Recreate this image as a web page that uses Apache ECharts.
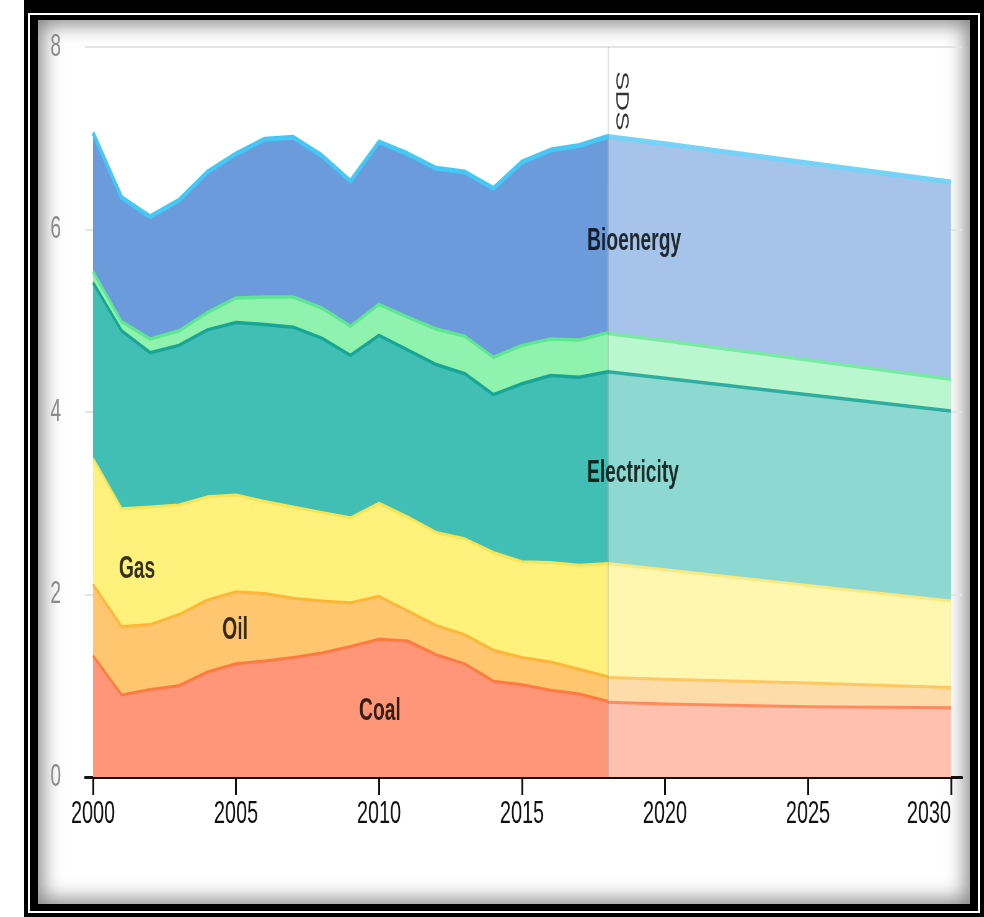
<!DOCTYPE html>
<html>
<head>
<meta charset="utf-8">
<script src="https://cdn.jsdelivr.net/npm/echarts@6/dist/echarts.min.js"></script>
<style>
  html, body { margin: 0; padding: 0; width: 984px; height: 917px; overflow: hidden; background: #fff; }
  #outer { position: absolute; left: 24px; top: 0; right: 0; bottom: 0; background: #000; }
  #gap { position: absolute; left: 4px; top: 13px; right: 4px; bottom: 4px; background: #fff; }
  #inner { position: absolute; left: 2px; top: 2px; right: 2px; bottom: 2px; background: #000; }
  #panel { position: absolute; left: 8px; top: 5px; right: 8px; bottom: 7px; background: #fff;
           box-shadow: inset 0 0 20px 4px rgba(0,0,0,0.5); }
  #chart { position: absolute; left: 0; top: 0; height: 917px; transform-origin: 0 0; }
</style>
</head>
<body>
<div id="outer"><div id="gap"><div id="inner"><div id="panel"></div></div></div></div>
<div id="chart"></div>
<script>
// ---------------- data ----------------
const histYears = [2000,2001,2002,2003,2004,2005,2006,2007,2008,2009,2010,2011,2012,2013,2014,2015,2016,2017,2018];
const histCoal  = [1.33,0.90,0.96,1.00,1.15,1.24,1.27,1.31,1.36,1.43,1.51,1.49,1.34,1.24,1.05,1.01,0.95,0.91,0.83];
const histOil   = [0.78,0.75,0.71,0.78,0.79,0.79,0.74,0.65,0.57,0.48,0.47,0.33,0.32,0.32,0.34,0.30,0.31,0.27,0.27];
const histGas   = [1.38,1.29,1.29,1.20,1.13,1.06,1.01,1.00,0.97,0.93,1.02,1.03,1.02,1.05,1.07,1.05,1.09,1.14,1.24];
const histElec  = [1.93,1.95,1.69,1.75,1.83,1.89,1.94,1.97,1.91,1.78,1.84,1.83,1.84,1.81,1.73,1.95,2.05,2.06,2.10];
const histOther = [0.12,0.10,0.15,0.16,0.19,0.27,0.30,0.33,0.33,0.32,0.34,0.36,0.39,0.41,0.41,0.42,0.40,0.41,0.43];
const histBio   = [1.52,1.36,1.34,1.43,1.54,1.58,1.73,1.75,1.67,1.59,1.78,1.79,1.76,1.80,1.85,2.01,2.07,2.13,2.15];

const sdsYears  = [2018,2020,2025,2030];
const sdsCoal   = [0.82,0.80,0.77,0.76];
const sdsOil    = [0.27,0.27,0.26,0.22];
const sdsGas    = [1.25,1.20,1.07,0.95];
const sdsElec   = [2.10,2.10,2.09,2.08];
const sdsOther  = [0.42,0.41,0.38,0.35];
const sdsBio    = [2.16,2.16,2.16,2.16];

const xTicks = [2000,2005,2010,2015,2020,2025,2030];
const yTicks = [0,2,4,6,8];

const layerNames = ['Coal','Oil','Gas','Electricity','Other','Bioenergy'];
const annoNames = ['Bioenergy','Electricity','Gas','Oil','Coal'];
const annoX = [2018.92,2018.88,2001.54,2004.97,2010.03];
const annoY = [5.87,3.33,2.27,1.61,0.72];
const scenarioName = 'SDS';
const scenarioYear = 2018;

// ---------------- styles ----------------
const S = 0.62;                       // horizontal squeeze of the reference
const W = Math.round(984 / S);
const fills    = ['#ff9677','#fec66f','#fff17c','#41bfb4','#8ff2ad','#6b9bdb'];
const fillsSds = ['#ffc0ad','#fedca9','#fff7b0','#8dd9d2','#bbf7ce','#a6c3e9'];
const strokes    = ['#ff7a42','#ffb53a','#f9e455','#18a597','#5fe690','#45c8f5'];
const strokesSds = ['#ff8a62','#ffc664','#fbe87e','#30ada1','#78eaa2','#74d3f6'];
const strokeW = [3,3,3,3.5,3.5,5];
const FONT = '"Liberation Sans", Arial, sans-serif';

const el = document.getElementById('chart');
el.style.width = W + 'px';
el.style.transform = 'scaleX(' + S + ')';
const chart = echarts.init(el, null, { renderer: 'canvas' });

const hist = [histCoal, histOil, histGas, histElec, histOther, histBio];
const sds  = [sdsCoal, sdsOil, sdsGas, sdsElec, sdsOther, sdsBio];

// cumulative tops (stacking), built from the layer arrays
function cumulate(layers) {
  const out = [];
  layers.forEach((vals, i) => {
    out.push(vals.map((v, k) => +((i ? out[i - 1][k] : 0) + v).toFixed(4)));
  });
  return out;
}
const histTop = cumulate(hist);
const sdsTop  = cumulate(sds);

const series = [];
// draw from top layer down; lower layers painted above
for (let i = layerNames.length - 1; i >= 0; i--) {
  series.push({
    name: layerNames[i], type: 'line', symbol: 'none', smooth: false,
    data: histYears.map((y, k) => [y, histTop[i][k]]),
    lineStyle: { color: strokes[i], width: strokeW[i], join: 'round' },
    areaStyle: { color: fills[i], opacity: 1, origin: 'start' },
    itemStyle: { color: fills[i] },
    z: 2 + (layerNames.length - i) * 0.01
  });
  series.push({
    name: layerNames[i] + ' SDS', type: 'line', symbol: 'none', smooth: false,
    data: sdsYears.map((y, k) => [y, sdsTop[i][k]]),
    lineStyle: { color: strokesSds[i], width: strokeW[i], join: 'round' },
    areaStyle: { color: fillsSds[i], opacity: 1, origin: 'start' },
    itemStyle: { color: fillsSds[i] },
    z: 2 + (layerNames.length - i) * 0.01
  });
}
// vertical scenario divider
series.push({
  type: 'line', data: [], silent: true, z: 5,
  markLine: {
    silent: true, symbol: 'none', animation: false,
    lineStyle: { color: 'rgba(0,0,0,0.12)', width: 2, type: 'solid' },
    label: { show: false },
    data: [{ xAxis: scenarioYear }]
  }
});
// area labels
series.push({
  type: 'scatter', silent: true, z: 10, symbolSize: 1,
  itemStyle: { color: 'transparent' },
  data: annoNames.map((n, k) => ({ value: [annoX[k], annoY[k]], name: n })),
  label: {
    show: true, position: 'inside', formatter: p => p.name,
    color: '#000', fontFamily: FONT, fontWeight: 'bold', fontSize: 31
  }
});
// scenario label
series.push({
  type: 'scatter', silent: true, z: 10, symbolSize: 1,
  itemStyle: { color: 'transparent' },
  data: [{ value: [2018.46, 7.41], name: scenarioName }],
  label: {
    show: true, position: 'inside', rotate: -90, formatter: p => p.name,
    color: '#000', fontFamily: FONT, fontSize: 29
  }
});

chart.setOption({
  animation: false,
  backgroundColor: 'transparent',
  grid: { left: 85 / S, right: W - 962 / S, top: 47, bottom: 140, containLabel: false },
  xAxis: {
    type: 'value', min: 1999.72, max: 2030.385,
    axisLine: { show: true, lineStyle: { color: '#111', width: 3 } },
    axisTick: { show: true, customValues: xTicks, length: 18, lineStyle: { color: '#111', width: 3 } },
    axisLabel: { customValues: xTicks, color: '#111', fontFamily: FONT, fontSize: 32, margin: 21,
                 alignMaxLabel: 'right', formatter: v => String(v) },
    splitLine: { show: false }
  },
  yAxis: {
    type: 'value', min: 0, max: 8, interval: 2,
    axisLine: { show: false }, axisTick: { show: false },
    axisLabel: { color: '#8a8a8a', fontFamily: FONT, fontSize: 31, margin: 24 / S,
                 customValues: yTicks },
    splitLine: { show: true, lineStyle: { color: '#e4e4e4', width: 2 } }
  },
  series: series
});
</script>
</body>
</html>
